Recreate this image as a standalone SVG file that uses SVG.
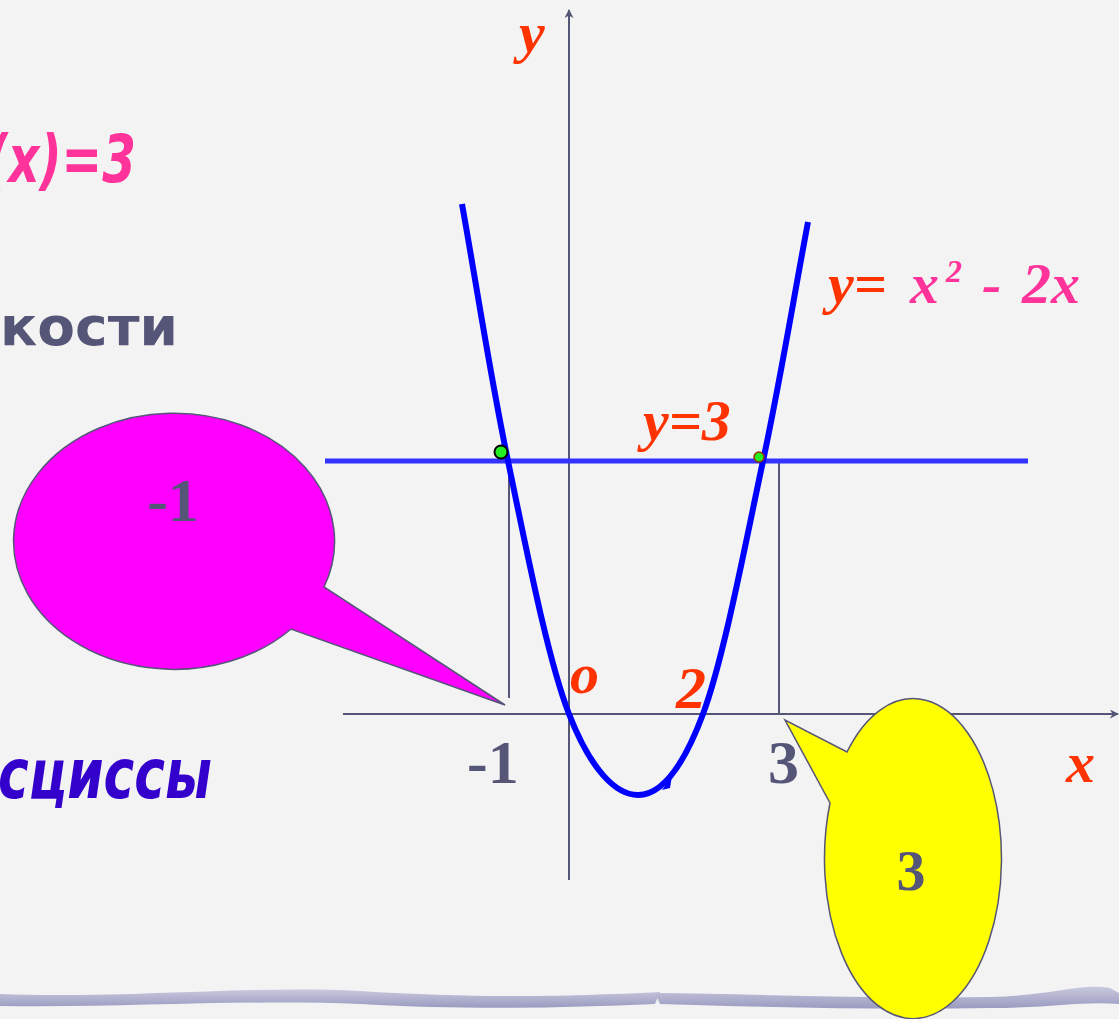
<svg xmlns="http://www.w3.org/2000/svg" width="1119" height="1019" viewBox="0 0 1119 1019">
<style>
.m{font-family:"Liberation Serif",serif;font-weight:bold;font-style:italic}
.n{font-family:"Liberation Serif",serif;font-weight:bold;fill:#555577}
.s{font-family:"DejaVu Sans","Noto Sans",sans-serif;font-weight:bold}
.red{fill:#ff3300}
.pink{fill:#ff3399}
.axis{stroke:#555577;stroke-width:2;fill:none}
.drop{stroke:#555577;stroke-width:2}
</style>
<defs>
<marker id="arr" viewBox="0 0 10 10" refX="9" refY="5" markerWidth="9" markerHeight="9" orient="auto" markerUnits="userSpaceOnUse">
<path d="M0,0 L10,5 L0,10 L3,5 z" fill="#555577"/>
</marker>
<linearGradient id="band" x1="0" y1="0" x2="0" y2="1">
<stop offset="0" stop-color="#c8c8de"/>
<stop offset="1" stop-color="#9a9ac0"/>
</linearGradient>
</defs>
<rect width="1119" height="1019" fill="#f3f3f4"/>
<g id="background-band">
<path d="M0,994 C120,999 250,985 360,991 C470,998 560,997 660,992 L655,1004 C560,1008 470,1010 360,1004 C250,999 120,1008 0,1006 z" fill="url(#band)"/>
<path d="M655,993 C760,994 880,999 990,997 C1050,996 1080,983 1110,988 L1119,993 L1119,1004 C1080,1001 1050,1008 990,1008 C880,1010 760,1007 660,1004 z" fill="url(#band)"/>
</g>
<g id="left-text">
<text class="s pink" x="-14" y="182" font-size="66" font-style="italic" textLength="150" lengthAdjust="spacingAndGlyphs">(x)=3</text>
<text class="s" x="0" y="345" font-size="54" fill="#555577" textLength="178" lengthAdjust="spacingAndGlyphs">кости</text>
<text class="s" x="-2" y="798" font-size="70" font-style="italic" fill="#3300cc" textLength="214" lengthAdjust="spacingAndGlyphs">сциссы</text>
</g>
<g id="connectors">
<line class="axis" x1="343" y1="714" x2="1118" y2="714" marker-end="url(#arr)"/>
<line class="axis" x1="569" y1="880" x2="569" y2="10" marker-end="url(#arr)"/>
<line class="drop" x1="509" y1="461" x2="509" y2="698"/>
<line class="drop" x1="779" y1="461" x2="779" y2="714"/>
<line id="line-y3" x1="325" y1="461" x2="1028" y2="461" stroke="#3333ff" stroke-width="5"/>
<path id="parabola" d="M462,204 C477.3,289.7 490.2,376 508,461 C525.8,546 547.3,658.3 569,714 C590.7,769.7 615.7,795 638,795 C660.3,795 682.2,769.7 703,714 C723.8,658.3 745.5,543 763,461 C780.5,379 793,301.7 808,222" fill="none" stroke="#0000ff" stroke-width="6"/>
<path d="M662,790 L672,776 L670,788 z" fill="#0000ff"/>
</g>
<g id="points">
<circle cx="501" cy="452" r="6.5" fill="#22ee22" stroke="#000" stroke-width="2"/>
<circle cx="759" cy="457" r="5" fill="#22ee22" stroke="#993300" stroke-width="1.5"/>
</g>
<g id="labels">
<text class="m red" x="519" y="52" font-size="58">y</text>
<text class="m red" x="643" y="440" font-size="58">y=3</text>
<text class="m" y="303" font-size="58"><tspan class="red" x="828">y=</tspan><tspan class="pink" x="910">x</tspan><tspan class="pink" x="946" y="282" font-size="32">2</tspan><tspan class="pink" x="982" y="303">-</tspan><tspan class="pink" x="1022">2x</tspan></text>
<text class="m red" x="570" y="693" font-size="58">o</text>
<text class="m red" x="676" y="708" font-size="60">2</text>
<text class="n" x="467" y="783" font-size="62">-1</text>
<text class="n" x="768" y="783" font-size="62">3</text>
<text class="m red" x="1066" y="782" font-size="58">x</text>
</g>
<g id="callout-minus1">
<path d="M324,587 A160.5,128 0 1 0 291,629 L505,705 z" fill="#ff00ff" stroke="#555577" stroke-width="1.5"/>
<text class="n" x="173" y="521" font-size="62" text-anchor="middle">-1</text>
</g>
<g id="callout-3">
<path d="M847,752 A88.5,160 0 1 1 830,803 L785,720 z" fill="#ffff00" stroke="#555577" stroke-width="1.5"/>
<text class="n" x="911" y="890" font-size="58" text-anchor="middle">3</text>
</g>
</svg>
